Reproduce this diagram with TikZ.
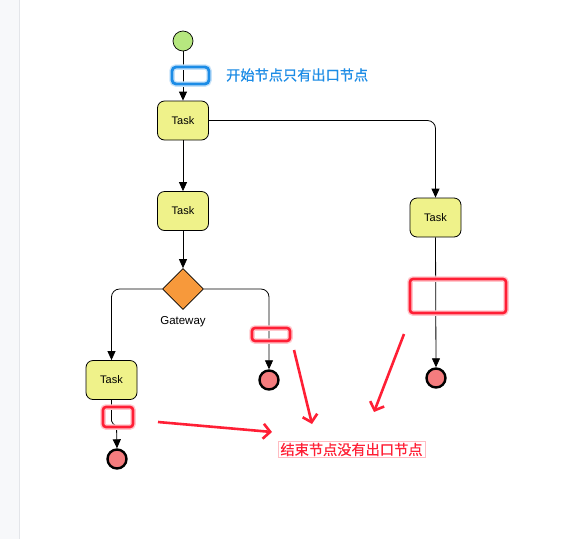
\documentclass[tikz,border=0pt]{standalone}
\usepackage{fontspec}
\setmainfont{Liberation Sans}
\newfontfamily\cjk{Noto Sans CJK SC}[FakeBold=0.6]
\usetikzlibrary{arrows.meta,shapes.geometric}
\definecolor{startgreen}{HTML}{B6E77F}
\definecolor{taskyellow}{HTML}{EFF28A}
\definecolor{gateorange}{HTML}{F7993B}
\definecolor{endred}{HTML}{F47C7E}
\definecolor{markred}{HTML}{FF1F35}
\definecolor{markblue}{HTML}{1C8CE6}
\definecolor{sidebar}{HTML}{F7F8FA}
\definecolor{sideline}{HTML}{E3E5E9}
\begin{document}
\begin{tikzpicture}[x=1pt,y=-1pt,
  taskbox/.style={draw=black,line width=0.8pt,fill=taskyellow,rounded corners=7pt,minimum width=51pt,minimum height=39pt,inner sep=0pt,font=\fontsize{11}{13}\selectfont},
  startc/.style={circle,draw=black,line width=0.7pt,fill=startgreen,minimum size=20pt,inner sep=0pt},
  endc/.style={circle,draw=black,line width=2.4pt,fill=endred,minimum size=19pt,inner sep=0pt},
  gate/.style={diamond,draw=black,line width=0.7pt,fill=gateorange,minimum width=41pt,minimum height=41pt,inner sep=0pt},
  flow/.style={draw=black,line width=0.8pt,rounded corners=8pt,-{Triangle[length=9pt,width=8pt]}},
  redbox/.style={draw=markred,line width=2.6pt,rounded corners=3pt},
  redglow/.style={draw=markred!25,line width=5.5pt,rounded corners=3pt},
  redarr/.style={draw=markred,line width=2.6pt,-{Straight Barb[length=7pt,width=15pt]}},
  note/.style={font=\cjk\fontsize{14.2}{16}\selectfont,inner sep=2pt}
]
\useasboundingbox (0,0) rectangle (586,539);
\fill[white] (0,0) rectangle (586,539);
\fill[sidebar] (0,0) rectangle (19,539);
\draw[sideline,line width=1pt] (19.5,0) -- (19.5,539);

% nodes
\node[startc] (s) at (183,41) {};
\node[taskbox] (t1) at (183,120.5) {Task};
\node[taskbox] (t2) at (183,211) {Task};
\node[taskbox] (t3) at (435.5,217.5) {Task};
\node[gate] (g) at (183,289) {};
\node[font=\fontsize{11.5}{13}\selectfont] (gl) at (183,322) {Gateway};
\node[taskbox] (t4) at (111.5,380) {Task};
\node[endc] (e2) at (269,380) {};
\node[endc] (e3) at (436,378) {};
\node[endc] (e1) at (117,459) {};

% connectors
\draw[flow] (s) -- (t1);
\draw[flow] (t1) -- (t2);
\draw[flow] (t2) -- (g);
\draw[flow] (t1.east) -| (t3.north);
\draw[flow] (g.west) -| (t4.north);
\draw[flow] (g.east) -| (e2.north);
\draw[flow] (t3.south) -- (e3.north);
\draw[black,line width=0.8pt,rounded corners=2pt,-{Triangle[length=9pt,width=8pt]}] (t4.south) -- ++(0,23) -- ++(5,3) -- (e1.north);

% blue highlight
\draw[markblue!25,line width=5.5pt,rounded corners=4pt] (172,67) rectangle (209,84);
\draw[markblue,line width=2.8pt,rounded corners=4pt] (172,67) rectangle (209,84);
\node[note,text=markblue,anchor=west] (bt) at (224,75) {开始节点只有出口节点};

% red highlights
\draw[redglow] (103,407) rectangle (133,427);
\draw[redbox] (103,407) rectangle (133,427);
\draw[redglow] (252,328) rectangle (290,341);
\draw[redbox] (252,328) rectangle (290,341);
\draw[redglow] (410,279) rectangle (506,313);
\draw[redbox] (410,279) rectangle (506,313);

% red note
\node[note,text=markred,draw=markred!30,line width=0.8pt,inner xsep=2.5pt,inner ysep=1.5pt] (rt) at (351.5,449.5) {结束节点没有出口节点};

% red arrows
\coordinate (a1) at (158,422);
\coordinate (a1e) at (272,432);
\coordinate (a2) at (294,350);
\coordinate (a2e) at (312,424);
\coordinate (a3) at (404,334);
\coordinate (a3e) at (374,412);
\draw[redarr] (a1) -- (a1e);
\draw[redarr] (a2) -- (a2e);
\draw[redarr] (a3) -- (a3e);
\end{tikzpicture}
\end{document}
